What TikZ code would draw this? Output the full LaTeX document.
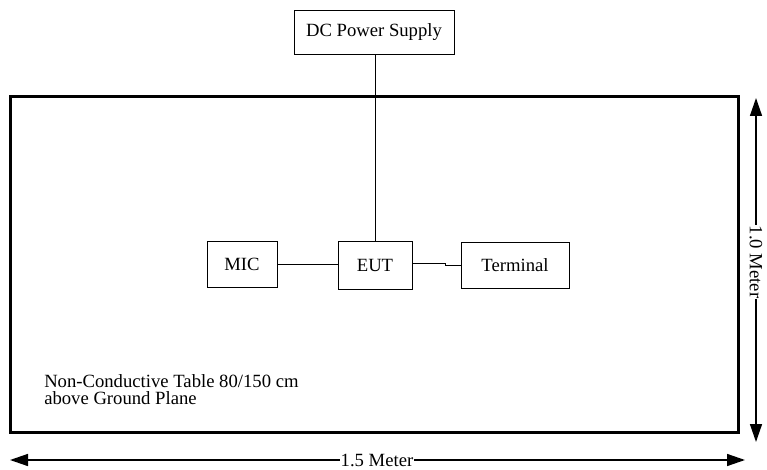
\documentclass[tikz,border=0pt]{standalone}
\usepackage{fontspec}
\setmainfont{Liberation Serif}
\usetikzlibrary{arrows.meta}
\begin{document}
\begin{tikzpicture}[x=0.75pt,y=-0.75pt,
  box/.style={draw,line width=0.75pt,inner sep=0pt,outer sep=0pt,font=\fontsize{14}{16}\selectfont},
  wire/.style={line width=0.75pt},
  tablebox/.style={draw,line width=2.25pt,inner sep=0pt,outer sep=0pt,minimum width=546pt,minimum height=251.25pt},
  dimarrow/.style={line width=1.1pt,{Triangle[length=13.5pt,width=9pt]}-{Triangle[length=13.5pt,width=9pt]}},
  dimlabel/.style={fill=white,inner sep=0.5pt,font=\fontsize{14}{16}\selectfont},
  note/.style={align=left,inner sep=0pt,anchor=north west,font=\fontsize{14}{12.75}\selectfont}]
\useasboundingbox (0,0) rectangle (767,470);
\fill[white] (0,0) rectangle (767,470);
% table
\node[tablebox] (table) at (374,264.5) {};
% boxes
\node[box,minimum width=120pt,minimum height=33pt] (dc) at (374,32.5) {DC Power Supply};
\node[box,minimum width=52.5pt,minimum height=33.75pt] (mic) at (242,264.5) {MIC};
\node[box,minimum width=55.5pt,minimum height=35.25pt] (eut) at (375,265.5) {EUT};
\node[box,minimum width=81pt,minimum height=33.75pt] (term) at (515,265.5) {Terminal};
% connectors
\draw[wire] (eut.north |- dc.south) -- (eut.north);
\draw[wire] (mic.east) -- (mic.east -| eut.west);
\coordinate (s1) at (445,264);
\coordinate (s2) at (445,266);
\draw[wire] (eut.east |- s1) -- (s1) -- (s2) -- (s2 -| term.west);
% note
\node[note] (txt) at (44,374) {Non-Conductive Table 80/150 cm\\above Ground Plane};
% dimension arrows
\coordinate (hl) at (10,460);
\coordinate (hr) at (745,460);
\draw[dimarrow] (hl) -- (hr);
\node[dimlabel] (hlab) at (377,460) {1.5 Meter};
\coordinate (vt) at (756,98);
\coordinate (vb) at (756,442);
\draw[dimarrow] (vt) -- (vb);
\node[dimlabel,rotate=-90] (vlab) at (756,262) {1.0 Meter};
\end{tikzpicture}
\end{document}
